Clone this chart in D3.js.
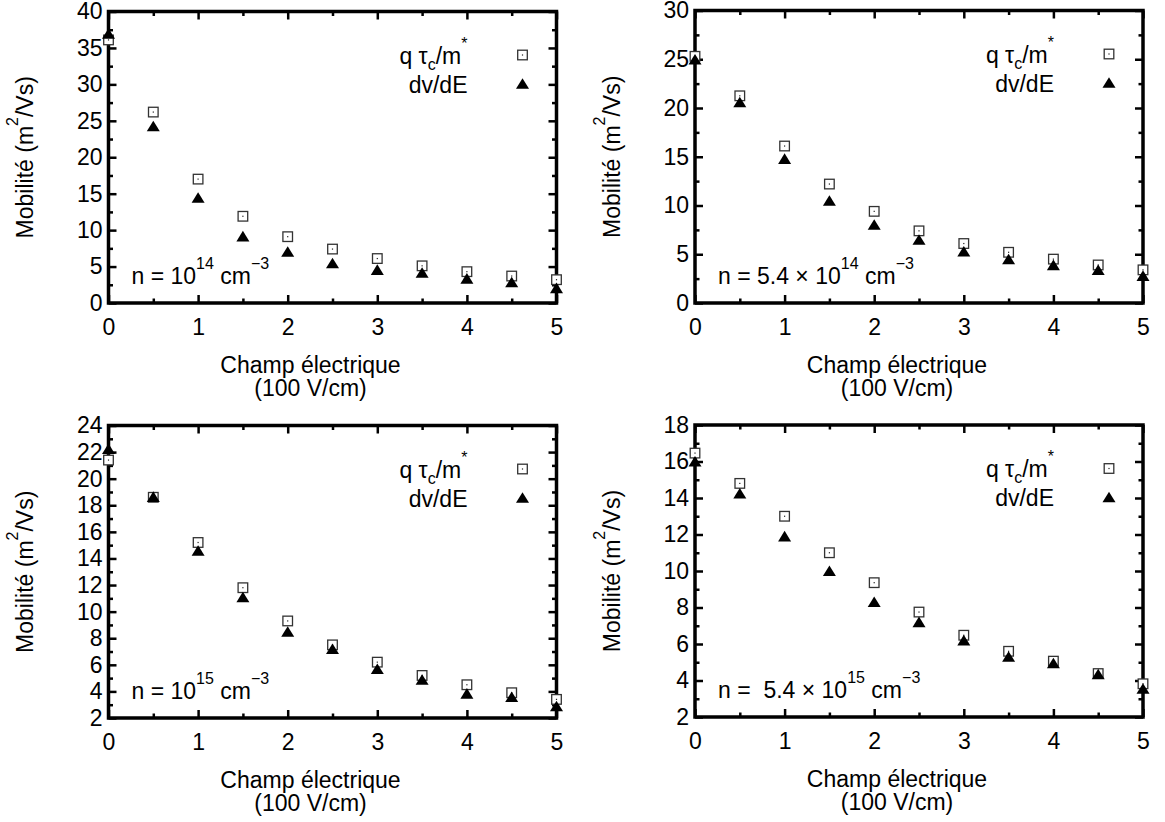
<!DOCTYPE html>
<html><head><meta charset="utf-8">
<script src="https://cdn.jsdelivr.net/npm/d3@7"></script>
<style>
body{margin:0;background:#fff}
svg{display:block}
text{font-family:"Liberation Sans",Arial,Helvetica,sans-serif;fill:#000}
</style>
</head><body>
<svg id="chart" width="1165" height="822"></svg>
<script>
// ---- data ----
const fieldValues = [0, 0.5, 1, 1.5, 2, 2.5, 3, 3.5, 4, 4.5, 5];
const xTickLabels = [0, 1, 2, 3, 4, 5];

const tauP1  = [36.1, 26.2, 17.0, 11.9, 9.1, 7.4, 6.1, 5.1, 4.3, 3.7, 3.2];
const dvdeP1 = [36.7, 24.0, 14.2, 8.9, 6.8, 5.2, 4.3, 3.9, 3.1, 2.6, 1.8];
const tauP2  = [25.3, 21.25, 16.1, 12.2, 9.4, 7.4, 6.1, 5.2, 4.5, 3.9, 3.4];
const dvdeP2 = [24.8, 20.4, 14.6, 10.3, 7.85, 6.3, 5.1, 4.3, 3.7, 3.2, 2.6];
const tauP3  = [21.4, 18.6, 15.2, 11.8, 9.3, 7.5, 6.2, 5.2, 4.5, 3.9, 3.4];
const dvdeP3 = [22.1, 18.5, 14.45, 10.95, 8.35, 7.05, 5.55, 4.75, 3.7, 3.45, 2.75];
const tauP4  = [16.46, 14.8, 13.0, 11.0, 9.36, 7.75, 6.48, 5.6, 5.06, 4.38, 3.82];
const dvdeP4 = [15.9, 14.15, 11.8, 9.9, 8.2, 7.1, 6.1, 5.2, 4.85, 4.25, 3.45];

const yTicksP1 = [0, 5, 10, 15, 20, 25, 30, 35, 40];
const yTicksP2 = [0, 5, 10, 15, 20, 25, 30];
const yTicksP3 = [2, 4, 6, 8, 10, 12, 14, 16, 18, 20, 22, 24];
const yTicksP4 = [2, 4, 6, 8, 10, 12, 14, 16, 18];

const annP1 = [["n = 10", 0], ["14", 1], [" cm", 0], ["\u22123", 1]];
const annP2 = [["n = 5.4 \u00d7 10", 0], ["14", 1], [" cm", 0], ["\u22123", 1]];
const annP3 = [["n = 10", 0], ["15", 1], [" cm", 0], ["\u22123", 1]];
const annP4 = [["n =  5.4 \u00d7 10", 0], ["15", 1], [" cm", 0], ["\u22123", 1]];

const legendTau = [["q \u03c4", 0], ["c", -1], ["/m", 0], ["*", 1]];
const legendDv = [["dv/dE", 0]];
const xTitle1 = "Champ \u00e9lectrique";
const xTitle2 = "(100 V/cm)";
const yTitle = [["Mobilit\u00e9 (m", 0], ["2", 1], ["/Vs)", 0]];

// ---- layout ----
const FS = 23, SFS = 16;
const panels = [
  {tau: tauP1, dv: dvdeP1, yTicks: yTicksP1, minor: 2.5, ann: annP1, left: 108.5, top: 11.5, bottom: 303},
  {tau: tauP2, dv: dvdeP2, yTicks: yTicksP2, minor: 2.5, ann: annP2, left: 695, top: 10.5, bottom: 303},
  {tau: tauP3, dv: dvdeP3, yTicks: yTicksP3, minor: 1, ann: annP3, left: 108.5, top: 425.5, bottom: 718},
  {tau: tauP4, dv: dvdeP4, yTicks: yTicksP4, minor: 1, ann: annP4, left: 695, top: 425, bottom: 717}
];
const W = 448;

const svg = d3.select("#chart");
svg.append("rect").attr("width", 1165).attr("height", 822).attr("fill", "#fff");

function rich(sel, parts, subShift) {
  parts.forEach(([t, k], i) => {
    const prev = i > 0 ? parts[i - 1][1] : 0;
    let dy = 0;
    const lvl = k === 1 ? -15 : (k === -1 ? 6 : 0);
    const plvl = prev === 1 ? -15 : (prev === -1 ? 6 : 0);
    dy = lvl - plvl;
    sel.append("tspan").attr("dy", dy).attr("font-size", k === 0 ? FS : SFS).text(t);
  });
}

const triPath = "M0,-7.3L6.5,3.25L-6.5,3.25Z";

panels.forEach(p => {
  const right = p.left + W;
  const yd = d3.extent(p.yTicks);
  const x = d3.scaleLinear().domain([0, 5]).range([p.left, right]);
  const y = d3.scaleLinear().domain(yd).range([p.bottom, p.top]);
  const xMinor = d3.range(0.5, 5, 1);
  const yMinor = d3.range(yd[0], yd[1] + 1e-9, p.minor).filter(v => !p.yTicks.some(t => Math.abs(t - v) < 1e-9));

  const g = svg.append("g");
  const styleAxis = a => {
    a.select(".domain").remove();
    a.selectAll(".tick line").attr("stroke", "#000").attr("stroke-width", 2.5);
    a.selectAll("text").attr("font-size", FS).attr("font-family", "Liberation Sans, Arial, sans-serif").attr("fill", "#000");
  };
  // major
  g.append("g").attr("transform", `translate(0,${p.bottom})`)
    .call(d3.axisBottom(x).tickValues(xTickLabels).tickSize(-8).tickPadding(16).tickFormat(d3.format("d"))).call(styleAxis);
  g.append("g").attr("transform", `translate(0,${p.top})`)
    .call(d3.axisTop(x).tickValues(xTickLabels).tickSize(-8).tickFormat("")).call(styleAxis);
  g.append("g").attr("transform", `translate(${p.left},0)`)
    .call(d3.axisLeft(y).tickValues(p.yTicks).tickSize(-8).tickPadding(6).tickFormat(d3.format("d"))).call(styleAxis);
  g.append("g").attr("transform", `translate(${right},0)`)
    .call(d3.axisRight(y).tickValues(p.yTicks).tickSize(-8).tickFormat("")).call(styleAxis);
  // minor
  g.append("g").attr("transform", `translate(0,${p.bottom})`)
    .call(d3.axisBottom(x).tickValues(xMinor).tickSize(-4.5).tickFormat("")).call(styleAxis);
  g.append("g").attr("transform", `translate(0,${p.top})`)
    .call(d3.axisTop(x).tickValues(xMinor).tickSize(-4.5).tickFormat("")).call(styleAxis);
  g.append("g").attr("transform", `translate(${p.left},0)`)
    .call(d3.axisLeft(y).tickValues(yMinor).tickSize(-4.5).tickFormat("")).call(styleAxis);
  g.append("g").attr("transform", `translate(${right},0)`)
    .call(d3.axisRight(y).tickValues(yMinor).tickSize(-4.5).tickFormat("")).call(styleAxis);

  // frame
  g.append("rect").attr("x", p.left).attr("y", p.top).attr("width", W).attr("height", p.bottom - p.top)
    .attr("fill", "none").attr("stroke", "#000").attr("stroke-width", 3.5);

  // titles
  const cx = (p.left + right) / 2 - 22;
  g.append("text").attr("x", cx).attr("y", p.bottom + 70).attr("text-anchor", "middle").attr("font-size", FS).text(xTitle1);
  g.append("text").attr("x", cx).attr("y", p.bottom + 93).attr("text-anchor", "middle").attr("font-size", FS).text(xTitle2);
  const yt = g.append("text").attr("transform", `translate(${p.left - 75.5},${(p.top + p.bottom) / 2}) rotate(-90)`)
    .attr("text-anchor", "middle").attr("font-size", FS);
  rich(yt, yTitle);

  // annotation
  const an = g.append("text").attr("x", p.left + 23).attr("y", p.bottom - 19).attr("font-size", FS).style("white-space", "pre");
  rich(an, p.ann);

  // legend
  const lt = g.append("text").attr("x", right - 89).attr("y", p.top + 52).attr("text-anchor", "end").attr("font-size", FS);
  rich(lt, legendTau);
  const ld = g.append("text").attr("x", right - 89).attr("y", p.top + 81).attr("text-anchor", "end").attr("font-size", FS);
  rich(ld, legendDv);

  // squares
  const sq = g.append("g");
  const drawSquare = (sel) => {
    sel.append("rect").attr("x", -4.8).attr("y", -4.8).attr("width", 9.6).attr("height", 9.6)
      .attr("fill", "#fff").attr("stroke", "#333").attr("stroke-width", 1.3);
    sel.append("rect").attr("x", -0.6).attr("y", -0.6).attr("width", 1.2).attr("height", 1.2).attr("fill", "#222");
  };
  sq.selectAll("g").data(fieldValues.map((f, i) => [f, p.tau[i]])).join("g")
    .attr("transform", d => `translate(${x(d[0])},${y(d[1])})`).each(function () { drawSquare(d3.select(this)); });
  drawSquare(g.append("g").attr("transform", `translate(${right - 34},${p.top + 43.5})`));

  // triangles
  g.append("g").selectAll("path").data(fieldValues.map((f, i) => [f, p.dv[i]])).join("path")
    .attr("d", triPath).attr("fill", "#000")
    .attr("transform", d => `translate(${x(d[0])},${y(d[1])})`);
  g.append("path").attr("d", triPath).attr("fill", "#000").attr("transform", `translate(${right - 34},${p.top + 74})`);
});
</script>
</body></html>
